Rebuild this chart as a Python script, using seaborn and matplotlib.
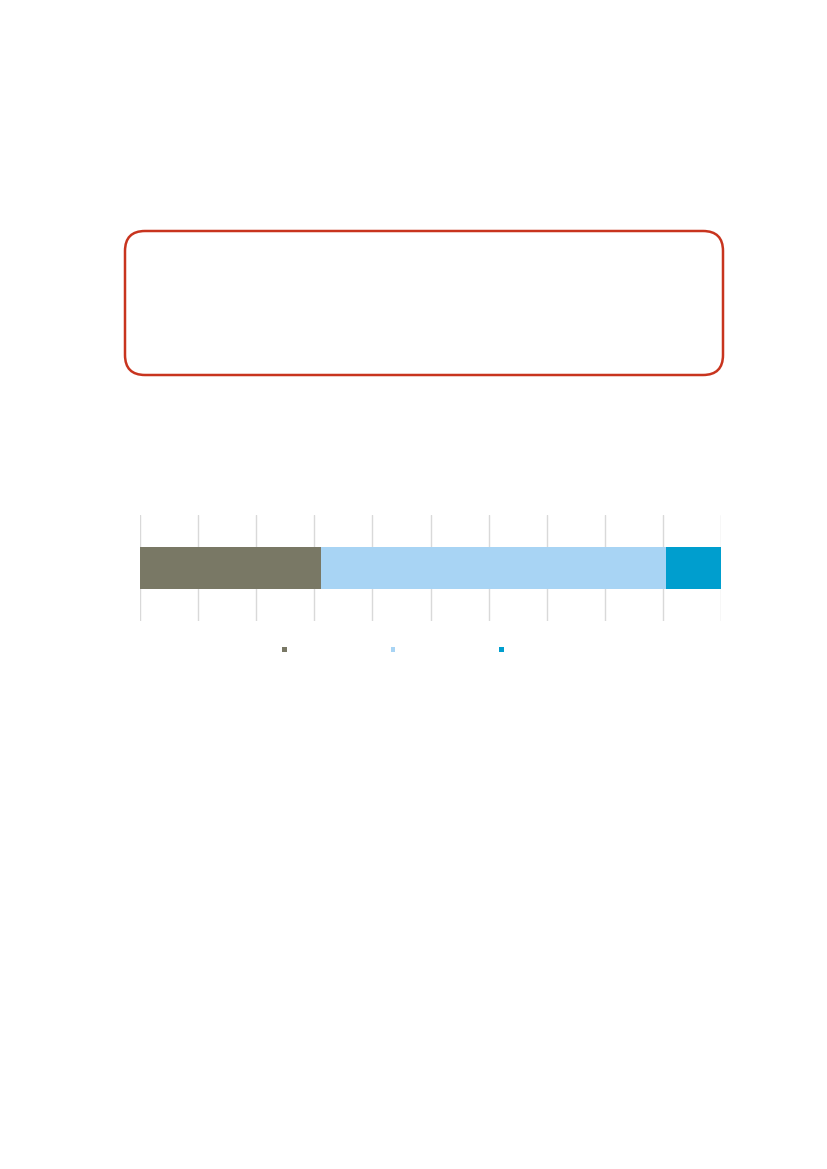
import matplotlib
matplotlib.use("Agg")
import matplotlib.pyplot as plt
import seaborn as sns
import pandas as pd
import numpy as np
from matplotlib.patches import FancyBboxPatch, Patch

# shares of one stacked bar (percent)
segments = ["Segment A", "Segment B", "Segment C"]
shares = [31.2, 59.4, 9.4]
colors = ["#797865", "#A8D4F4", "#009ECE"]
ticks = list(range(0, 101, 10))

sns.set_theme(style="white")
plt.rcParams["font.family"] = ["DejaVu Sans"]

fig = plt.figure(figsize=(8.27, 11.69), dpi=100)
fig.patch.set_facecolor("white")

# page overlay in pixel units for the rounded red frame
bg = fig.add_axes([0, 0, 1, 1], zorder=0)
bg.set_xlim(0, 827)
bg.set_ylim(1169, 0)
bg.axis("off")
r = 20
frame = FancyBboxPatch((125 + r, 231 + r), 598 - 2 * r, 144 - 2 * r,
                       boxstyle=f"round,pad={r}", fill=False,
                       edgecolor="#C8341E", linewidth=1.8)
bg.add_patch(frame)

# stacked bar chart
ax = fig.add_axes([140 / 827, 1 - 621 / 1169, 581 / 827, 106 / 1169], zorder=1)
ax.patch.set_alpha(0)
cum = np.cumsum(shares)
df = pd.DataFrame({"row": [""] * len(segments), "segment": segments, "cum": cum})
for i in reversed(range(len(segments))):
    sns.barplot(data=df.iloc[[i]], x="cum", y="row", orient="h",
                color=colors[i], width=0.4, saturation=1, linewidth=0,
                ax=ax, zorder=2)

ax.set_xlim(0, 100)
ax.set_ylim(0.5, -0.5)
ax.set_xticks(ticks)
ax.grid(axis="x", color="#D9D9D9", linewidth=1)
ax.set_axisbelow(True)
ax.tick_params(left=False, bottom=False, labelleft=False, labelbottom=False)
ax.set_xlabel("")
ax.set_ylabel("")
for s in ax.spines.values():
    s.set_visible(False)

handles = [Patch(facecolor=c, edgecolor="none") for c in colors]
fig.legend(handles, ["", "", ""], loc="center",
           bbox_to_anchor=(393 / 827, 1 - 650 / 1169), ncol=3, frameon=False,
           fontsize=7, handlelength=0.5, handleheight=0.5, handletextpad=0,
           columnspacing=10.7)

fig.savefig("out.png", dpi=100, facecolor="white")
